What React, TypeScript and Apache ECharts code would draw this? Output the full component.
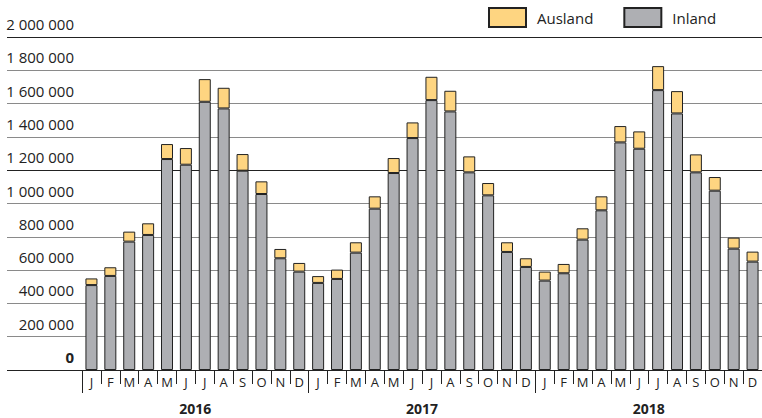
import React, { useEffect, useRef } from "react";
import * as echarts from "echarts";

const months = ["J", "F", "M", "A", "M", "J", "J", "A", "S", "O", "N", "D"];
const years = ["2016", "2017", "2018"];
const categories = years.flatMap((y) => months.map((m) => m));

const inland2016 = [510, 565, 771, 811, 1267, 1233, 1611, 1571, 1197, 1057, 671, 591];
const ausland2016 = [40, 52, 60, 70, 90, 100, 136, 124, 100, 76, 56, 52];
const inland2017 = [523, 547, 705, 969, 1183, 1393, 1621, 1553, 1187, 1049, 709, 619];
const ausland2017 = [41, 56, 62, 74, 90, 94, 140, 124, 96, 74, 58, 52];
const inland2018 = [537, 581, 783, 959, 1367, 1329, 1681, 1541, 1187, 1077, 729, 651];
const ausland2018 = [54, 56, 68, 84, 98, 104, 144, 134, 108, 82, 66, 60];

const inland = [...inland2016, ...inland2017, ...inland2018].map((v) => v * 1000);
const ausland = [...ausland2016, ...ausland2017, ...ausland2018].map((v) => v * 1000);

const yMin = 0;
const yMax = 2000000;
const yStep = 200000;

const FONT = "'Open Sans', 'Noto Sans', sans-serif";
const NARROW = "'Liberation Sans Narrow', 'Open Sans', sans-serif";

const fmt = (v: number) => String(v).replace(/\B(?=(\d{3})+(?!\d))/g, " ");

export default function App() {
  const ref = useRef<HTMLDivElement>(null);
  useEffect(() => {
    if (!ref.current) return;
    const chart = echarts.init(ref.current, null, { renderer: "svg" });
    const dark = "#222";
    const grey = "#8a8a8a";
    const lineColors = [dark, grey, grey, grey, grey, grey, dark, grey, grey, grey, dark];
    const border = { borderColor: "#222", borderWidth: 1 };
    chart.setOption({
      animation: false,
      backgroundColor: "#fff",
      legend: {
        data: ["Ausland", "Inland"],
        left: 488,
        top: 7,
        padding: 0,
        itemWidth: 37,
        itemHeight: 19,
        itemGap: 30,
        icon: "rect",
        textStyle: { fontFamily: FONT, fontSize: 15, color: "#222", padding: [0, 0, 0, 6] },
      },
      grid: [
        { left: 82, right: 0, top: 37, bottom: 48 },
        { left: 7, right: 0, top: 37, bottom: 48 },
      ],
      xAxis: [
        {
          type: "category",
          gridIndex: 0,
          data: categories,
          axisLine: { show: true, lineStyle: { color: dark, width: 1 } },
          axisTick: { show: true, interval: 0, length: 14, lineStyle: { color: dark } },
          axisLabel: { interval: 0, margin: 5, fontFamily: NARROW, fontSize: 13, color: "#222" },
        },
        {
          type: "category",
          gridIndex: 0,
          position: "bottom",
          data: years,
          axisLine: { show: false },
          axisTick: { show: true, interval: 0, length: 23, lineStyle: { color: dark } },
          axisLabel: { interval: 0, margin: 31, fontFamily: NARROW, fontSize: 14, fontWeight: "bold", color: "#222" },
        },
        { type: "value", gridIndex: 1, min: 0, max: 1, show: false },
      ],
      yAxis: [
        {
          type: "value",
          gridIndex: 0,
          min: yMin,
          max: yMax,
          interval: yStep,
          show: false,
          splitLine: { show: false },
        },
        {
          type: "value",
          gridIndex: 1,
          min: yMin,
          max: yMax,
          interval: yStep,
          axisLine: { show: false },
          axisTick: { show: false },
          splitLine: { show: true, lineStyle: { color: lineColors, width: 1 } },
          axisLabel: {
            inside: true,
            margin: 67,
            align: "right",
            verticalAlign: "bottom",
            lineHeight: 16,
            padding: [0, 0, 5, 0],
            fontFamily: FONT,
            fontSize: 15,
            color: "#222",
            formatter: (v: number) => (v === 0 ? "{b|0}" : fmt(v)),
            rich: { b: { fontWeight: "bold", fontFamily: FONT, fontSize: 15, color: "#222" } },
          },
        },
      ],
      series: [
        {
          name: "Inland",
          type: "bar",
          stack: "total",
          xAxisIndex: 0,
          yAxisIndex: 0,
          barWidth: 12,
          data: inland,
          itemStyle: { color: "#aeafb3", ...border },
        },
        {
          name: "Ausland",
          type: "bar",
          stack: "total",
          xAxisIndex: 0,
          yAxisIndex: 0,
          barWidth: 12,
          data: ausland,
          itemStyle: { color: "#fed581", ...border },
        },
      ],
    });
    return () => chart.dispose();
  }, []);
  return (
    <div
      ref={ref}
      style={{ position: "fixed", left: 0, top: 0, width: 762, height: 418 }}
    />
  );
}
